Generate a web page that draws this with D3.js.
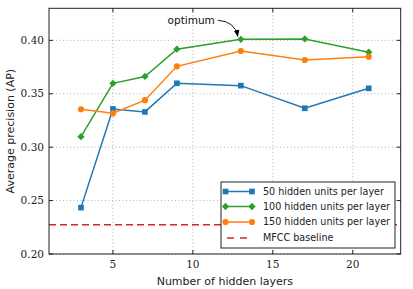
<!DOCTYPE html>
<html>
<head>
<meta charset="utf-8">
<script src="https://cdn.jsdelivr.net/npm/d3@7"></script>
<style>
  body { margin: 0; background: #fff; }
  svg { display: block; }
</style>
</head>
<body>
<div id="main"></div>
<script>
// hidden layers on the x axis
var layers = [3, 5, 7, 9, 13, 17, 21];
// average precision per configuration
var ap50 = [0.2434, 0.3358, 0.3330, 0.3598, 0.3576, 0.3364, 0.3551];
var ap100 = [0.3098, 0.3598, 0.3662, 0.3917, 0.4010, 0.4013, 0.3889];
var ap150 = [0.3355, 0.3317, 0.3440, 0.3757, 0.3900, 0.3816, 0.3847];
var mfccBaseline = 0.2274;
var xTicks = [5, 10, 15, 20];
var yTicks = [0.20, 0.25, 0.30, 0.35, 0.40];
var seriesNames = ["50 hidden units per layer", "100 hidden units per layer", "150 hidden units per layer"];
var baselineName = "MFCC baseline";

var width = 413, height = 289;
var margin = { top: 8.3, right: 12.3, bottom: 35, left: 49 };
var w = width - margin.left - margin.right,
  h = height - margin.top - margin.bottom;

var svg = d3.select("#main").append("svg")
  .attr("width", width)
  .attr("height", height);

var g = svg.append("g")
  .attr("transform", "translate(" + margin.left + "," + margin.top + ")");

var x = d3.scaleLinear().domain([1, 23]).range([0, w]);
var y = d3.scaleLinear().domain([0.20, 0.43]).range([h, 0]);

// grid
g.append("g").selectAll("line").data(xTicks).enter().append("line")
  .attr("x1", d => x(d)).attr("x2", d => x(d))
  .attr("y1", 0).attr("y2", h)
  .attr("stroke", "#b0b0b0").attr("stroke-width", 1).attr("stroke-dasharray", "1,2.5");
g.append("g").selectAll("line").data(yTicks).enter().append("line")
  .attr("x1", 0).attr("x2", w)
  .attr("y1", d => y(d)).attr("y2", d => y(d))
  .attr("stroke", "#b0b0b0").attr("stroke-width", 1).attr("stroke-dasharray", "1,2.5");

// baseline
g.append("line")
  .attr("x1", 0).attr("x2", w)
  .attr("y1", y(mfccBaseline)).attr("y2", y(mfccBaseline))
  .attr("stroke", "#d62728").attr("stroke-width", 1.5).attr("stroke-dasharray", "7,4");

var colors = ["#1f77b4", "#2ca02c", "#ff7f0e"];
var symbols = [d3.symbolSquare, d3.symbolDiamond2, d3.symbolCircle];
var symSizes = [32, 34, 30];
var allSeries = [ap50, ap100, ap150];

var line = d3.line().x((d, i) => x(layers[i])).y(d => y(d));

allSeries.forEach(function(vals, k) {
  g.append("path").datum(vals)
    .attr("d", line)
    .attr("fill", "none")
    .attr("stroke", colors[k])
    .attr("stroke-width", 1.5);
  g.append("g").selectAll("path").data(vals).enter().append("path")
    .attr("transform", (d, i) => "translate(" + x(layers[i]) + "," + y(d) + ")")
    .attr("d", d3.symbol().type(symbols[k]).size(symSizes[k]))
    .attr("fill", colors[k]);
});

// frame
g.append("rect")
  .attr("width", w).attr("height", h)
  .attr("fill", "none").attr("stroke", "#222").attr("stroke-width", 1);

// inward ticks on all sides
var tl = 4;
xTicks.forEach(function(t) {
  g.append("line").attr("x1", x(t)).attr("x2", x(t)).attr("y1", h).attr("y2", h - tl).attr("stroke", "#222");
  g.append("line").attr("x1", x(t)).attr("x2", x(t)).attr("y1", 0).attr("y2", tl).attr("stroke", "#222");
});
yTicks.forEach(function(t) {
  g.append("line").attr("x1", 0).attr("x2", tl).attr("y1", y(t)).attr("y2", y(t)).attr("stroke", "#222");
  g.append("line").attr("x1", w).attr("x2", w - tl).attr("y1", y(t)).attr("y2", y(t)).attr("stroke", "#222");
});

// tick labels
g.append("g").selectAll("text").data(xTicks).enter().append("text")
  .attr("x", d => x(d)).attr("y", h + 14)
  .attr("text-anchor", "middle")
  .style("font-family", "DejaVu Serif").style("font-size", "10.5px").attr("fill", "#222")
  .text(d => d);
g.append("g").selectAll("text").data(yTicks).enter().append("text")
  .attr("x", -5).attr("y", d => y(d)).attr("dy", "0.34em")
  .attr("text-anchor", "end")
  .style("font-family", "DejaVu Serif").style("font-size", "10.5px").attr("fill", "#222")
  .text(d => d.toFixed(2));

// axis titles
svg.append("text")
  .attr("x", margin.left + w / 2).attr("y", 285)
  .attr("text-anchor", "middle")
  .style("font-family", "DejaVu Sans").style("font-size", "11px").attr("fill", "#222")
  .text("Number of hidden layers");
svg.append("text")
  .attr("transform", "translate(14," + (margin.top + h / 2) + ") rotate(-90)")
  .attr("text-anchor", "middle")
  .style("font-family", "DejaVu Sans").style("font-size", "11px").attr("fill", "#222")
  .text("Average precision (AP)");

// annotation
var ox = x(layers[4]), oy = y(ap100[4]);
svg.append("defs").append("marker")
  .attr("id", "head").attr("viewBox", "0 0 10 10")
  .attr("refX", 9).attr("refY", 5)
  .attr("markerWidth", 7).attr("markerHeight", 7)
  .attr("markerUnits", "userSpaceOnUse")
  .attr("orient", "auto")
  .append("path").attr("d", "M0,1 L10,5 L0,9 Z").attr("fill", "#000");
g.append("path")
  .attr("d", "M" + (ox - 23) + "," + (oy - 19) + " Q" + (ox - 6) + "," + (oy - 18) + " " + (ox - 3) + "," + (oy - 3))
  .attr("fill", "none").attr("stroke", "#000").attr("stroke-width", 0.9)
  .attr("marker-end", "url(#head)");
g.append("text")
  .attr("x", ox - 26).attr("y", oy - 15.5)
  .attr("text-anchor", "end")
  .style("font-family", "DejaVu Sans").style("font-size", "10.5px").attr("fill", "#111")
  .text("optimum");

// legend
var lg = svg.append("g").attr("transform", "translate(221,182)");
lg.append("rect").attr("width", 174).attr("height", 66)
  .attr("fill", "#fff").attr("stroke", "#222").attr("stroke-width", 1);
var rowY = [9.5, 24.5, 40, 56];
seriesNames.forEach(function(name, k) {
  lg.append("line").attr("x1", 4.5).attr("x2", 31).attr("y1", rowY[k]).attr("y2", rowY[k])
    .attr("stroke", colors[k]).attr("stroke-width", 1.5);
  [4.5, 31].forEach(function(px) {
    lg.append("path").attr("transform", "translate(" + px + "," + rowY[k] + ")")
      .attr("d", d3.symbol().type(symbols[k]).size(symSizes[k]))
      .attr("fill", colors[k]);
  });
  lg.append("text").attr("x", 42).attr("y", rowY[k]).attr("dy", "0.36em")
    .style("font-family", "DejaVu Sans").style("font-size", "9.6px").attr("fill", "#222")
    .text(name);
});
lg.append("line").attr("x1", 6).attr("x2", 31).attr("y1", rowY[3]).attr("y2", rowY[3])
  .attr("stroke", "#d62728").attr("stroke-width", 1.5).attr("stroke-dasharray", "7,6");
lg.append("text").attr("x", 42).attr("y", rowY[3]).attr("dy", "0.36em")
  .style("font-family", "DejaVu Sans").style("font-size", "9.6px").attr("fill", "#222")
  .text(baselineName);
</script>
</body>
</html>
